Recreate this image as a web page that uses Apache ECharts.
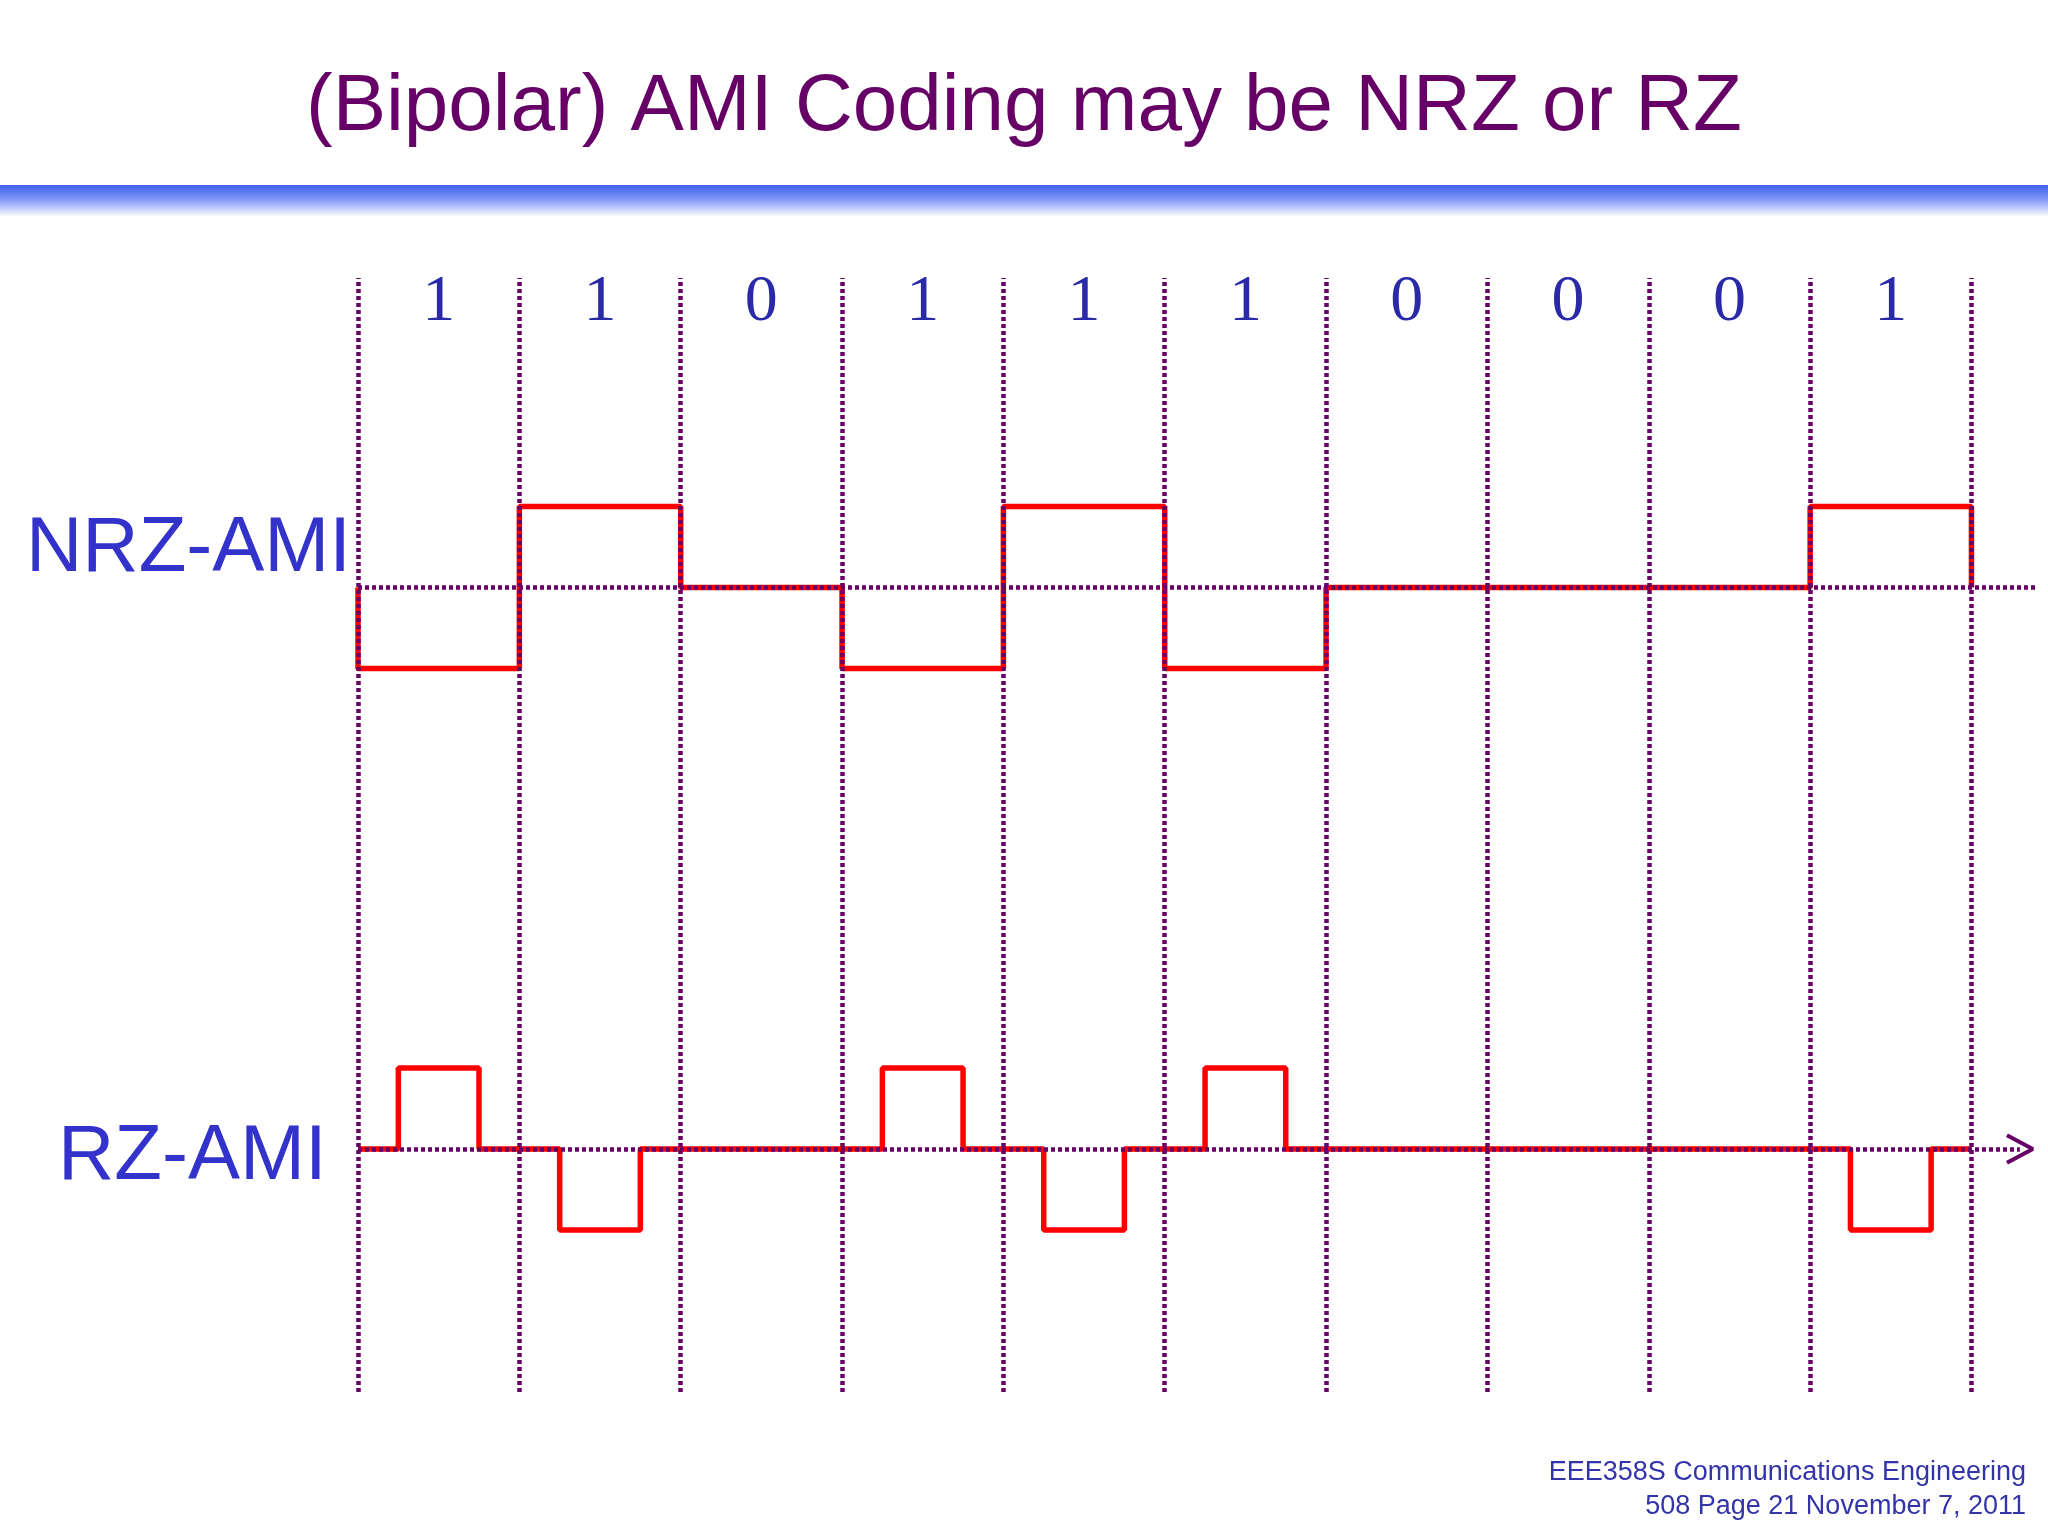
<!DOCTYPE html>
<html><head><meta charset="utf-8">
<script src="https://cdn.jsdelivr.net/npm/echarts@6/dist/echarts.min.js"></script>
<style>html,body{margin:0;padding:0;background:#fff}#c{width:2048px;height:1536px}</style>
</head><body><div id="c"></div>
<script>
const bits = [1,1,0,1,1,1,0,0,0,1];
const nrzLevels = [-1,1,0,-1,1,-1,0,0,0,1];
const rzLevels = [1,-1,0,1,-1,1,0,0,0,-1];
const nrzBase = 6.93, rzBase = 0;

const nrz = [[0,nrzBase]];
nrzLevels.forEach((lv,i)=>{ nrz.push([i,nrzBase+lv],[i+1,nrzBase+lv]); });
nrz.push([bits.length,nrzBase]);
const rz = [[0,rzBase]];
rzLevels.forEach((lv,i)=>{ rz.push([i+0.25,rzBase],[i+0.25,rzBase+lv],[i+0.75,rzBase+lv],[i+0.75,rzBase],[i+1,rzBase]); });

const dotted = {color:'#660066', width:4.5, type:[4,3], opacity:1};
const vlines = [];
for(let i=0;i<=bits.length;i++) vlines.push([{coord:[i,-3]},{coord:[i,10.75]}]);

const chart = echarts.init(document.getElementById('c'));
chart.setOption({
  animation:false,
  grid:{left:358, right:12, top:278, bottom:144},
  xAxis:{type:'value', min:0, max:10.4, show:false},
  yAxis:{type:'value', min:-3, max:10.75, show:false},
  graphic:[
    {type:'rect', shape:{x:0,y:185,width:2048,height:32}, style:{fill:new echarts.graphic.LinearGradient(0,0,0,1,[{offset:0,color:'#3f5ff0'},{offset:0.45,color:'#7f97f6'},{offset:1,color:'#ffffff'}])}},
    {type:'text', x:1024, y:108, style:{text:'(Bipolar) AMI Coding may be NRZ or RZ', font:'80px "Liberation Sans", Arial', fill:'#660066', align:'center', verticalAlign:'middle'}},
    {type:'text', x:26, y:549, style:{text:'NRZ-AMI', font:'78px "Liberation Sans", Arial', fill:'#3333cc', verticalAlign:'middle'}},
    {type:'text', x:58, y:1157, style:{text:'RZ-AMI', font:'78px "Liberation Sans", Arial', fill:'#3333cc', verticalAlign:'middle'}},
    {type:'text', x:2026, y:1473, style:{text:'EEE358S Communications Engineering', font:'27px "Liberation Sans", Arial', fill:'#3333aa', align:'right', verticalAlign:'middle'}},
    {type:'text', x:2026, y:1507, style:{text:'508 Page 21 November 7, 2011', font:'27px "Liberation Sans", Arial', fill:'#3333aa', align:'right', verticalAlign:'middle'}}
  ],
  series:[
    {type:'line', data:[], z:1, silent:true,
     markLine:{symbol:'none', silent:true, label:{show:false}, lineStyle:dotted, emphasis:{disabled:true}, data:vlines.concat([
       [{coord:[0,nrzBase]},{coord:[10.4,nrzBase]}],
       [{coord:[0,rzBase]},{coord:[10.3,rzBase]}]
     ])}},
    {type:'line', data:[[10.22,0.17],[10.38,0],[10.22,-0.17]], showSymbol:false, z:2, lineStyle:{color:'#660066', width:4}},
    {type:'line', data:nrz, showSymbol:false, z:3, lineStyle:{color:'#ff0000', width:5.5}},
    {type:'line', data:rz, showSymbol:false, z:3, lineStyle:{color:'#ff0000', width:5.5}},
    {type:'scatter', symbolSize:0, z:4, data:bits.map((b,i)=>[i+0.5,10.45,b]),
     label:{show:true, position:'inside', formatter:p=>String(p.data[2]), fontFamily:'"Liberation Serif", "Times New Roman", serif', fontSize:66, color:'#2a2aa8', opacity:1}}
  ]
});
</script></body></html>
